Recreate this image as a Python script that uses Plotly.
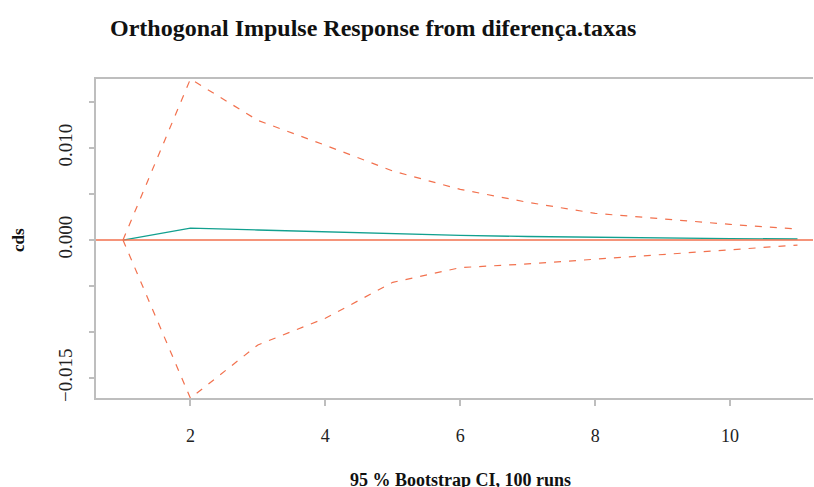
import plotly.graph_objects as go

horizon = [1, 2, 3, 4, 5, 6, 7, 8, 9, 10, 11]
irf = [0.0, 0.0013, 0.00109, 0.00087, 0.00066, 0.0005, 0.00038, 0.00028, 0.00022, 0.00016, 0.00011]
upper = [0.0, 0.0175, 0.0130, 0.0103, 0.0075, 0.0055, 0.0041, 0.0029, 0.0023, 0.0017, 0.0012]
lower = [0.0, -0.0172, -0.0114, -0.0085, -0.0046, -0.0030, -0.0026, -0.0021, -0.0016, -0.0011, -0.00055]

ytick_vals = [-0.015, -0.010, -0.005, 0.0, 0.005, 0.010, 0.015]
ytick_text = ["\u22120.015", "", "", "0.000", "", "0.010", ""]
xtick_vals = [2, 4, 6, 8, 10]

teal = "#12A08F"
orange = "#F2714E"
font_family = "Liberation Serif"

fig = go.Figure()
fig.add_trace(go.Scatter(x=horizon, y=irf, mode="lines", line=dict(color=teal, width=1.3), showlegend=False))
fig.add_trace(go.Scatter(x=horizon, y=upper, mode="lines", line=dict(color=orange, width=1.2, dash="7px,8px"), showlegend=False))
fig.add_trace(go.Scatter(x=horizon, y=lower, mode="lines", line=dict(color=orange, width=1.2, dash="7px,8px"), showlegend=False))
fig.add_hline(y=0, line=dict(color=orange, width=1.5))

fig.update_layout(
    width=814, height=487,
    margin=dict(l=96, r=1, t=79, b=89),
    plot_bgcolor="white", paper_bgcolor="white",
    font=dict(family=font_family, size=19, color="#222222"),
    xaxis=dict(range=[0.6, 11.23], tickvals=xtick_vals, showgrid=False, zeroline=False,
               showline=True, linecolor="#BEBEBE", linewidth=2, mirror=True,
               ticks="outside", ticklen=6, tickcolor="#BEBEBE", tickwidth=2,
               ticklabelstandoff=14, tickfont=dict(size=18, family=font_family)),
    yaxis=dict(range=[-0.01717, 0.0175], tickvals=ytick_vals, ticktext=ytick_text,
               showgrid=False, zeroline=False, showline=True, linecolor="#BEBEBE", linewidth=2,
               ticks="outside", ticklen=5, tickcolor="#BEBEBE", tickwidth=2, tickangle=-90,
               ticklabelstandoff=9, tickfont=dict(size=19, family=font_family)),
    annotations=[
        dict(text="<b>Orthogonal Impulse Response from diferença.taxas</b>", xref="paper", yref="paper",
             x=0.0167, y=1.16, xanchor="left", yanchor="middle", showarrow=False,
             font=dict(size=24, family=font_family, color="#111111")),
        dict(text="<b>95 % Bootstrap CI, 100 runs</b>", xref="paper", yref="paper",
             x=0.5077, y=-0.2194, xanchor="center", yanchor="top", showarrow=False,
             font=dict(size=18, family=font_family, color="#111111")),
        dict(text="<b>cds</b>", xref="paper", yref="paper", textangle=-90,
             x=-0.1088, y=0.495, xanchor="center", yanchor="middle", showarrow=False,
             font=dict(size=17, family=font_family, color="#111111")),
    ],
)

fig.write_html(
    "out.html",
    config={"displayModeBar": False},
    post_script="document.body.style.margin='0';document.body.style.overflow='hidden';",
)
